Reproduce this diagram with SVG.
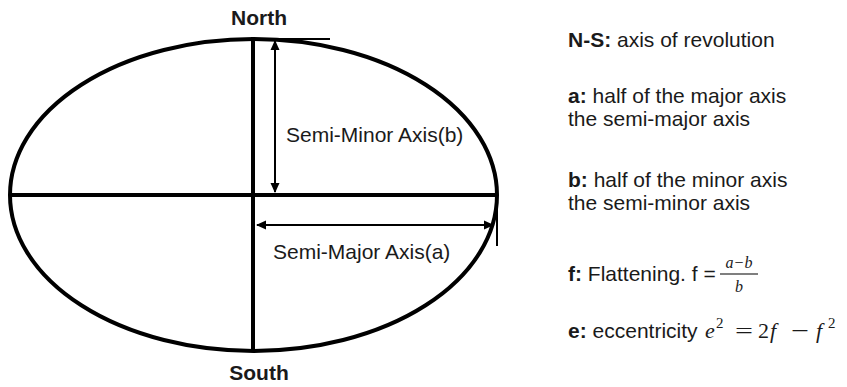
<svg xmlns="http://www.w3.org/2000/svg" width="847" height="387" viewBox="0 0 847 387">
<defs>
<style>
.thick{stroke:#000;stroke-width:4;fill:none}
.thin{stroke:#000;stroke-width:2;fill:none}
.lbl{font-family:"Liberation Sans",Arial,sans-serif;font-size:21px;fill:#1a1a1a}
.bold{font-weight:bold}
.math{font-family:"Liberation Serif","Times New Roman",serif;font-style:italic;fill:#1a1a1a}
.up{font-family:"Liberation Serif","Times New Roman",serif;font-style:normal;fill:#1a1a1a}
</style>
<marker id="ah" viewBox="0 0 10 10" refX="9" refY="5" markerWidth="10" markerHeight="10" markerUnits="userSpaceOnUse" orient="auto-start-reverse">
<path d="M0,0.5 L10,5 L0,9.5 z" fill="#000"/>
</marker>
</defs>
<rect width="847" height="387" fill="#fff"/>
<g id="ellipse">
<ellipse class="thick" cx="253.5" cy="195" rx="243.5" ry="156"/>
</g>
<g id="connectors">
<line class="thick" x1="10" y1="195" x2="497" y2="195"/>
<line class="thick" x1="253" y1="37" x2="253" y2="351"/>
<line class="thin" x1="249" y1="39" x2="330" y2="39"/>
<line class="thin" x1="275" y1="41" x2="275" y2="192" marker-start="url(#ah)" marker-end="url(#ah)"/>
<line class="thin" x1="257" y1="225" x2="493" y2="225" marker-start="url(#ah)" marker-end="url(#ah)"/>
<line class="thin" x1="497" y1="200" x2="497" y2="246"/>
</g>
<g id="north"><text class="lbl bold" x="259" y="25" text-anchor="middle" font-size="20">North</text></g>
<g id="south"><text class="lbl bold" x="259" y="380" text-anchor="middle" font-size="20">South</text></g>
<g id="semi-minor"><text class="lbl" x="286" y="142">Semi-Minor Axis(b)</text></g>
<g id="semi-major"><text class="lbl" x="273" y="259">Semi-Major Axis(a)</text></g>
<g id="legend">
<text class="lbl" x="568" y="47"><tspan class="bold">N-S:</tspan> axis of revolution</text>
<text class="lbl" x="568" y="103"><tspan class="bold">a:</tspan> half of the major axis</text>
<text class="lbl" x="568" y="126">the semi-major axis</text>
<text class="lbl" x="568" y="187"><tspan class="bold">b:</tspan> half of the minor axis</text>
<text class="lbl" x="568" y="210">the semi-minor axis</text>
<text class="lbl" x="568" y="281"><tspan class="bold">f:</tspan> Flattening. f =</text>
<text class="math" x="739" y="268" font-size="16" text-anchor="middle">a−b</text>
<line x1="720" y1="274" x2="758" y2="274" stroke="#000" stroke-width="1.2"/>
<text class="math" x="739" y="292" font-size="16" text-anchor="middle">b</text>
<text class="lbl" x="568" y="338"><tspan class="bold">e:</tspan> eccentricity</text>
<text class="math" x="705" y="338" font-size="22">e</text>
<text class="up" x="716" y="328" font-size="15">2</text>
<text class="up" x="735" y="338" font-size="22" textLength="18" lengthAdjust="spacingAndGlyphs">=</text>
<text class="up" x="758" y="338" font-size="22">2</text>
<text class="math" x="770" y="338" font-size="22">f</text>
<text class="up" x="791" y="338" font-size="22" textLength="18" lengthAdjust="spacingAndGlyphs">−</text>
<text class="math" x="816" y="338" font-size="22">f</text>
<text class="up" x="828" y="328" font-size="15">2</text>
</g>
</svg>
